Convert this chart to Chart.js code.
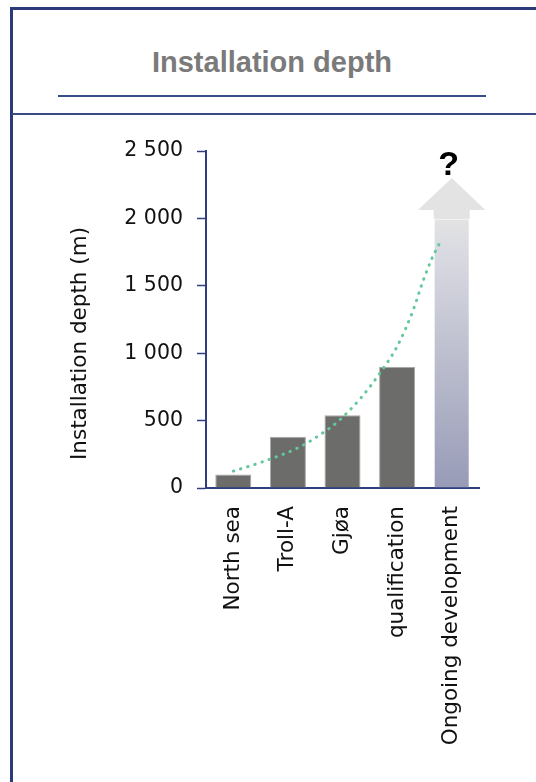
<!DOCTYPE html>
<html>
<head>
<meta charset="utf-8">
<script src="https://cdn.jsdelivr.net/npm/chart.js@4.4.0/dist/chart.umd.min.js"></script>
<style>
  html, body { margin: 0; padding: 0; background: #fff; }
  body { width: 536px; height: 782px; position: relative; overflow: hidden; font-family: "Liberation Sans", Arial, sans-serif; }
  .frame { position: absolute; left: 10px; top: 7px; width: 600px; height: 800px;
           border-left: 3px solid #2a3a7a; border-top: 3px solid #2a3a7a; }
  .title { position: absolute; left: 58px; width: 428px; top: 48px; line-height: 29px;
           text-align: center; font-size: 29px; font-weight: bold; color: #7a7a7a; }
  .underline { position: absolute; left: 58px; width: 428px; top: 95px; height: 2px; background: #3a4a85; }
  .sep { position: absolute; left: 12px; width: 530px; top: 113px; height: 2px; background: #3a4a85; }
  #chartCanvas { position: absolute; left: 0; top: 0; }
</style>
</head>
<body>
<div class="frame"></div>
<div class="title">Installation depth</div>
<div class="underline"></div>
<div class="sep"></div>
<canvas id="chartCanvas" width="536" height="782"></canvas>

<script>
// chart values
const categories = ["North sea", "Troll-A", "Gjøa", "qualification", "Ongoing development"];
const depths = [100, 380, 540, 900, 2000];
const yTickLabels = ["0", "500", "1 000", "1 500", "2 000", "2 500"];
const axisTitle = "Installation depth (m)";

// dotted trend curve (x = category position)
const trendX = [0, 0.54, 1.22, 1.59, 1.92, 2.34, 2.69, 3.0, 3.29, 3.47, 3.64, 3.77];
const trendY = [125, 195, 305, 395, 495, 670, 855, 1050, 1315, 1530, 1705, 1810];

// arrow head on top of the last bar
const arrowBase = 2062;
const arrowTip = 2300;

const navy = "#2e3e7e";
const textFont = "'DejaVu Sans', Verdana, sans-serif";

const arrowPlugin = {
    id: "arrow",
    afterDatasetsDraw(chart) {
        const ctx = chart.ctx;
        const bar = chart.getDatasetMeta(0).data[categories.length - 1];
        const y = chart.scales.y;
        const half = bar.width / 2;
        const baseY = y.getPixelForValue(arrowBase);
        const tipY = y.getPixelForValue(arrowTip);
        ctx.save();
        ctx.fillStyle = "#e3e3e3";
        // neck between bar top and head
        ctx.fillRect(bar.x - half, baseY, bar.width, bar.y - baseY + 0.5);
        // head
        ctx.beginPath();
        ctx.moveTo(bar.x - half * 1.87, baseY);
        ctx.lineTo(bar.x, tipY);
        ctx.lineTo(bar.x + half * 1.87, baseY);
        ctx.closePath();
        ctx.fill();
        // question mark
        ctx.fillStyle = "#000";
        ctx.font = "bold 34px 'Liberation Sans', Arial, sans-serif";
        ctx.textAlign = "center";
        ctx.textBaseline = "alphabetic";
        ctx.fillText("?", bar.x - 3, tipY - 3);
        ctx.restore();
    },
    afterDraw(chart) {
        // y axis title, a little below the axis middle as in the original
        const ctx = chart.ctx;
        const area = chart.chartArea;
        ctx.save();
        ctx.translate(area.left - 120, (area.top + area.bottom) / 2 + 24);
        ctx.rotate(-Math.PI / 2);
        ctx.font = "21.5px " + textFont;
        ctx.fillStyle = "#111";
        ctx.textAlign = "center";
        ctx.textBaseline = "alphabetic";
        ctx.fillText(axisTitle, 0, 0);
        ctx.restore();
    }
};

function ongoingFill(context) {
    const chart = context.chart;
    if (context.dataIndex !== categories.length - 1) return "#6c6c6a";
    if (!chart.chartArea) return "#9a9db8";
    const y = chart.scales.y;
    const top = y.getPixelForValue(depths[depths.length - 1]);
    const bottom = y.getPixelForValue(0);
    const g = chart.ctx.createLinearGradient(0, top, 0, bottom);
    g.addColorStop(0, "#e3e3e3");
    g.addColorStop(0.09, "#dcdde3");
    g.addColorStop(1, "#989bb7");
    return g;
}

const ctx = document.getElementById("chartCanvas").getContext("2d");

new Chart(ctx, {
    type: "bar",
    data: {
        labels: categories,
        datasets: [
            {
                type: "bar",
                data: depths,
                backgroundColor: ongoingFill,
                borderColor: (c) => c.dataIndex === categories.length - 1 ? "rgba(0,0,0,0)" : "#a8a8a8",
                borderWidth: 1,
                grouped: false,
                barPercentage: 0.66,
                categoryPercentage: 1,
                order: 2
            },
            {
                type: "line",
                xAxisID: "xt",
                data: trendX.map((x, i) => ({ x: x, y: trendY[i] })),
                borderColor: "#63c99b",
                borderWidth: 3,
                borderDash: [0.5, 7],
                borderCapStyle: "round",
                pointRadius: 0,
                cubicInterpolationMode: "monotone",
                fill: false,
                order: 1
            }
        ]
    },
    options: {
        responsive: false,
        animation: false,
        layout: { padding: { top: 151, right: 57, left: 0, bottom: 0 } },
        plugins: {
            legend: { display: false },
            tooltip: { enabled: false }
        },
        scales: {
            x: {
                type: "category",
                offset: true,
                grid: { display: false },
                border: { display: true, color: navy, width: 2 },
                ticks: {
                    minRotation: 90,
                    maxRotation: 90,
                    padding: 10,
                    color: "#111",
                    font: { family: textFont, size: 21.5 }
                },
                afterFit(scale) { scale.height = 294; }
            },
            xt: {
                type: "linear",
                display: false,
                offset: false,
                grid: { offset: false },
                min: -0.5,
                max: 4.5
            },
            y: {
                min: 0,
                max: 2500,
                grid: {
                    drawOnChartArea: false,
                    drawTicks: true,
                    tickLength: 9,
                    tickColor: navy,
                    tickWidth: 1.5
                },
                border: { display: true, color: navy, width: 2 },
                ticks: {
                    stepSize: 500,
                    padding: 14,
                    color: "#111",
                    font: { family: textFont, size: 20.5 },
                    callback: (value, index) => yTickLabels[index]
                },
                afterFit(scale) { scale.width = 206; }
            }
        }
    },
    plugins: [arrowPlugin]
});
</script>
</body>
</html>
